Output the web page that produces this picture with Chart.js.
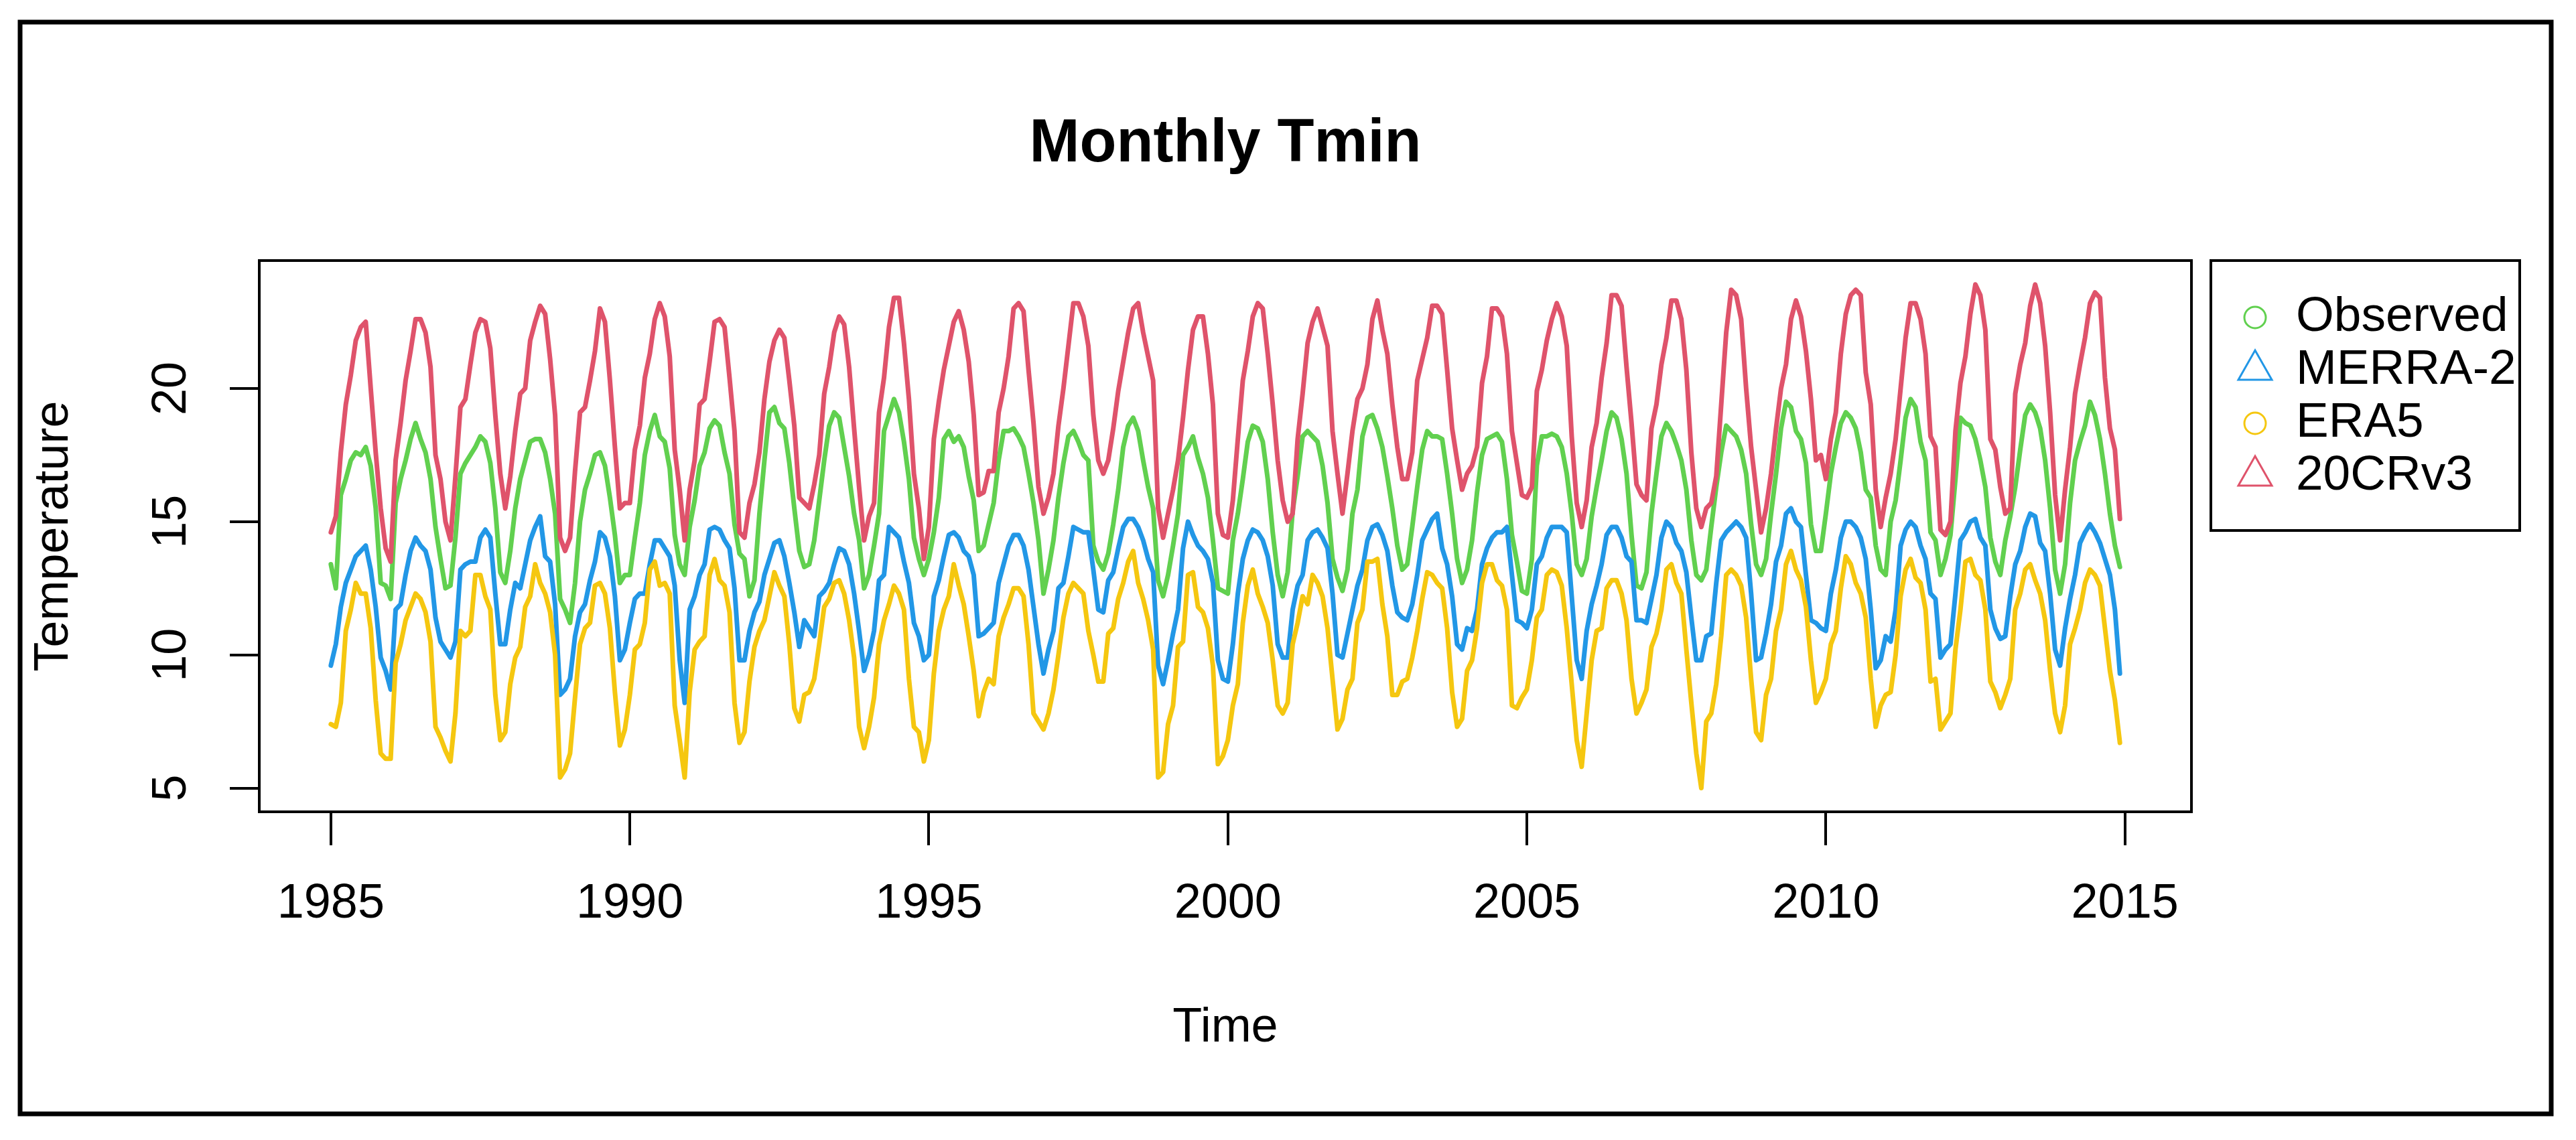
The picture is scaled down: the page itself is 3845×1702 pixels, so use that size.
<!DOCTYPE html>
<html>
<head>
<meta charset="utf-8">
<title>Monthly Tmin</title>
<script src="https://cdn.jsdelivr.net/npm/chart.js@4.4.1/dist/chart.umd.min.js"></script>
<style>
    html, body { margin: 0; padding: 0; background: #fff; }
    #wrap { width: 3845px; height: 1702px; }
</style>
</head>
<body>
<div id="wrap"><canvas id="chart-tmin" width="3845" height="1702"></canvas></div>
<script>
// monthly series, Jan 1985 .. Dec 2014 (one row per year)
var startYear = 1985;
var xTicks = [1985, 1990, 1995, 2000, 2005, 2010, 2015];
var yTicks = [5, 10, 15, 20];

var observed = [
    13.4, 12.5, 16.0, 16.6, 17.3, 17.6, 17.5, 17.8, 17.1, 15.5, 12.7, 12.6,
    12.1, 15.7, 16.6, 17.3, 18.1, 18.7, 18.1, 17.6, 16.6, 14.8, 13.6, 12.5,
    12.6, 14.4, 16.8, 17.2, 17.5, 17.8, 18.2, 18.0, 17.2, 15.5, 13.1, 12.7,
    13.9, 15.5, 16.6, 17.3, 18.0, 18.1, 18.1, 17.6, 16.6, 15.3, 12.1, 11.7,
    11.2, 12.7, 15.0, 16.2, 16.8, 17.5, 17.6, 17.1, 15.9, 14.5, 12.7, 13.0,
    13.0, 14.4, 15.7, 17.5, 18.4, 19.0, 18.2, 18.0, 17.0, 14.5, 13.4, 13.0,
    14.8, 15.8, 17.1, 17.6, 18.5, 18.8, 18.6, 17.6, 16.8, 14.9, 13.8, 13.6,
    12.2, 12.8, 15.3, 17.3, 19.1, 19.3, 18.7, 18.5, 17.2, 15.5, 13.9, 13.3,
    13.4, 14.3, 15.8, 17.3, 18.6, 19.1, 18.9, 17.8, 16.7, 15.3, 14.3, 12.5,
    13.0, 14.1, 15.3, 18.4, 19.0, 19.6, 19.1, 18.0, 16.6, 14.4, 13.6, 13.0,
    13.6, 14.6, 15.9, 18.1, 18.4, 18.0, 18.2, 17.8, 16.7, 15.8, 13.9, 14.1,
    14.9, 15.7, 17.3, 18.4, 18.4, 18.5, 18.2, 17.8, 16.8, 15.7, 14.3, 12.3,
    13.2, 14.3, 15.9, 17.2, 18.2, 18.4, 18.0, 17.5, 17.3, 14.1, 13.5, 13.2,
    13.8, 14.9, 16.2, 17.8, 18.6, 18.9, 18.4, 17.3, 16.3, 15.5, 12.8, 12.2,
    13.0, 14.1, 15.3, 17.5, 17.8, 18.2, 17.4, 16.8, 15.9, 14.3, 12.5, 12.4,
    12.3, 14.3, 15.3, 16.6, 18.0, 18.6, 18.5, 18.0, 16.6, 14.6, 13.0, 12.2,
    13.1, 15.4, 16.7, 18.2, 18.4, 18.2, 18.0, 17.1, 15.7, 13.6, 12.9, 12.4,
    13.2, 15.3, 16.2, 18.2, 18.9, 19.0, 18.5, 17.8, 16.7, 15.5, 14.1, 13.2,
    13.4, 14.8, 16.3, 17.7, 18.4, 18.2, 18.2, 18.1, 16.8, 15.3, 13.6, 12.7,
    13.2, 14.3, 16.1, 17.5, 18.1, 18.2, 18.3, 18.0, 16.6, 14.5, 13.5, 12.4,
    12.3, 13.6, 17.1, 18.2, 18.2, 18.3, 18.2, 17.8, 16.8, 15.3, 13.4, 13.0,
    13.6, 15.2, 16.3, 17.3, 18.4, 19.1, 18.9, 18.1, 16.8, 14.5, 12.6, 12.5,
    13.1, 15.3, 16.8, 18.2, 18.7, 18.4, 17.9, 17.3, 16.2, 14.3, 13.0, 12.8,
    13.2, 14.8, 16.3, 17.6, 18.6, 18.4, 18.2, 17.7, 16.8, 14.9, 13.4, 13.0,
    13.6, 15.3, 16.8, 18.5, 19.5, 19.3, 18.4, 18.1, 17.2, 14.9, 13.9, 13.9,
    15.3, 16.8, 17.8, 18.7, 19.1, 18.9, 18.5, 17.6, 16.2, 15.9, 14.1, 13.2,
    13.0, 15.0, 15.8, 17.3, 18.9, 19.6, 19.3, 18.0, 17.3, 14.6, 14.3, 13.0,
    13.6, 14.5, 16.6, 18.9, 18.7, 18.6, 18.1, 17.3, 16.3, 14.4, 13.5, 13.0,
    14.3, 15.2, 16.3, 17.7, 19.0, 19.4, 19.1, 18.5, 17.3, 15.5, 13.2, 12.3,
    13.4, 15.7, 17.3, 18.0, 18.6, 19.5, 19.0, 18.1, 16.8, 15.3, 14.1, 13.3
];

var merra2 = [
    9.6, 10.4, 11.8, 12.7, 13.2, 13.7, 13.9, 14.1, 13.2, 11.8, 9.9, 9.4,
    8.7, 11.7, 11.9, 13.0, 13.9, 14.4, 14.1, 13.9, 13.2, 11.4, 10.5, 10.2,
    9.9, 10.5, 13.2, 13.4, 13.5, 13.5, 14.4, 14.7, 14.4, 12.3, 10.4, 10.4,
    11.7, 12.7, 12.5, 13.4, 14.3, 14.8, 15.2, 13.7, 13.5, 11.9, 8.5, 8.7,
    9.1, 10.7, 11.6, 11.9, 12.8, 13.5, 14.6, 14.4, 13.7, 12.2, 9.8, 10.2,
    11.2, 12.1, 12.3, 12.3, 13.4, 14.3, 14.3, 14.0, 13.7, 12.6, 9.8, 8.2,
    11.7, 12.2, 13.0, 13.4, 14.7, 14.8, 14.7, 14.3, 14.0, 12.5, 9.8, 9.8,
    10.9, 11.6, 12.0, 13.0, 13.6, 14.2, 14.3, 13.7, 12.7, 11.6, 10.3, 11.3,
    11.0, 10.7, 12.2, 12.4, 12.7, 13.4, 14.0, 13.9, 13.4, 12.3, 10.9, 9.4,
    10.0, 10.9, 12.8, 13.0, 14.8, 14.6, 14.4, 13.5, 12.7, 11.2, 10.7, 9.8,
    10.0, 12.2, 12.8, 13.7, 14.5, 14.6, 14.4, 13.9, 13.7, 13.0, 10.7, 10.8,
    11.0, 11.2, 12.7, 13.4, 14.1, 14.5, 14.5, 14.1, 13.2, 11.8, 10.4, 9.3,
    10.2, 10.9, 12.5, 12.7, 13.7, 14.8, 14.7, 14.6, 14.6, 13.2, 11.7, 11.6,
    12.8, 13.1, 14.0, 14.8, 15.1, 15.1, 14.8, 14.3, 13.6, 13.1, 9.6, 8.9,
    9.8, 10.8, 11.7, 14.0, 15.0, 14.5, 14.1, 13.9, 13.6, 12.7, 9.8, 9.1,
    9.0, 10.4, 12.3, 13.6, 14.3, 14.7, 14.6, 14.3, 13.7, 12.6, 10.4, 9.9,
    9.9, 11.7, 12.6, 13.0, 14.3, 14.6, 14.7, 14.4, 14.0, 12.3, 10.0, 9.9,
    10.8, 11.7, 12.6, 13.2, 14.3, 14.8, 14.9, 14.5, 13.9, 12.6, 11.6, 11.4,
    11.3, 11.9, 13.0, 14.3, 14.7, 15.1, 15.3, 14.0, 13.4, 12.2, 10.4, 10.2,
    11.0, 10.9, 11.7, 13.4, 14.0, 14.4, 14.6, 14.6, 14.8, 13.0, 11.3, 11.2,
    11.0, 11.7, 13.4, 13.7, 14.4, 14.8, 14.8, 14.8, 14.6, 12.2, 9.8, 9.1,
    10.9, 11.9, 12.6, 13.4, 14.5, 14.8, 14.8, 14.4, 13.7, 13.5, 11.3, 11.3,
    11.2, 12.1, 13.0, 14.4, 15.0, 14.8, 14.2, 13.9, 13.1, 11.4, 9.8, 9.8,
    10.7, 10.8, 12.7, 14.3, 14.6, 14.8, 15.0, 14.8, 14.4, 12.3, 9.8, 9.9,
    10.8, 11.9, 13.5, 14.1, 15.3, 15.5, 15.0, 14.8, 13.0, 11.3, 11.2, 11.0,
    10.9, 12.3, 13.2, 14.4, 15.0, 15.0, 14.8, 14.4, 13.6, 11.7, 9.5, 9.8,
    10.7, 10.5, 11.7, 14.1, 14.7, 15.0, 14.8, 14.1, 13.6, 12.3, 12.1, 9.9,
    10.2, 10.4, 12.3, 14.3, 14.6, 15.0, 15.1, 14.4, 14.1, 11.7, 11.0, 10.6,
    10.7, 12.2, 13.4, 13.9, 14.8, 15.3, 15.2, 14.2, 13.9, 12.3, 10.2, 9.6,
    11.0, 12.1, 13.0, 14.2, 14.6, 14.9, 14.6, 14.2, 13.6, 13.0, 11.7, 9.3
];

var era5 = [
    7.4, 7.3, 8.2, 10.9, 11.7, 12.7, 12.3, 12.3, 11.0, 8.3, 6.3, 6.1,
    6.1, 9.7, 10.4, 11.3, 11.8, 12.3, 12.1, 11.6, 10.5, 7.3, 6.9, 6.4,
    6.0, 7.8, 10.9, 10.7, 10.9, 13.0, 13.0, 12.2, 11.7, 8.5, 6.8, 7.1,
    8.9, 9.9, 10.3, 11.8, 12.2, 13.4, 12.7, 12.3, 11.6, 10.0, 5.4, 5.7,
    6.3, 8.4, 10.4, 11.0, 11.2, 12.6, 12.7, 12.3, 11.0, 8.6, 6.6, 7.2,
    8.5, 10.2, 10.4, 11.2, 13.2, 13.5, 12.6, 12.7, 12.3, 8.1, 6.8, 5.4,
    8.6, 10.2, 10.5, 10.7, 13.0, 13.6, 12.8, 12.6, 11.6, 8.2, 6.7, 7.1,
    9.0, 10.3, 10.9, 11.3, 12.2, 13.1, 12.6, 12.2, 10.4, 8.0, 7.5, 8.5,
    8.6, 9.1, 10.4, 11.8, 12.1, 12.7, 12.8, 12.3, 11.3, 9.9, 7.3, 6.5,
    7.3, 8.4, 10.4, 11.3, 11.9, 12.6, 12.3, 11.7, 9.1, 7.3, 7.1, 6.0,
    6.8, 9.3, 10.9, 11.7, 12.2, 13.4, 12.6, 11.9, 10.7, 9.4, 7.7, 8.6,
    9.1, 8.9, 10.7, 11.4, 11.9, 12.5, 12.5, 12.2, 10.4, 7.8, 7.5, 7.2,
    7.8, 8.7, 10.0, 11.4, 12.3, 12.7, 12.5, 12.3, 10.9, 10.0, 9.0, 9.0,
    10.8, 11.0, 12.1, 12.7, 13.5, 13.9, 12.7, 12.1, 11.3, 10.2, 5.4, 5.6,
    7.4, 8.1, 10.3, 10.5, 13.0, 13.1, 11.8, 11.6, 11.0, 9.6, 5.9, 6.2,
    6.8, 8.1, 8.9, 11.2, 12.6, 13.2, 12.3, 11.8, 11.2, 9.8, 8.1, 7.8,
    8.2, 10.4, 11.2, 12.2, 11.9, 13.0, 12.7, 12.2, 11.0, 9.1, 7.2, 7.6,
    8.7, 9.1, 11.2, 11.7, 13.5, 13.5, 13.6, 11.9, 10.7, 8.5, 8.5, 9.0,
    9.1, 9.9, 10.9, 12.1, 13.1, 13.0, 12.7, 12.5, 11.0, 8.6, 7.3, 7.6,
    9.4, 9.8, 11.0, 12.7, 13.4, 13.4, 12.8, 12.6, 11.7, 8.1, 8.0, 8.4,
    8.7, 9.8, 11.4, 11.7, 13.0, 13.2, 13.1, 12.6, 11.0, 8.9, 6.8, 5.8,
    7.8, 9.8, 10.9, 11.0, 12.5, 12.8, 12.8, 12.3, 11.3, 9.1, 7.8, 8.2,
    8.7, 10.3, 10.8, 11.7, 13.2, 13.4, 12.7, 12.3, 10.2, 8.2, 6.3, 5.0,
    7.5, 7.8, 8.9, 10.7, 13.0, 13.2, 13.0, 12.6, 11.4, 9.1, 7.1, 6.8,
    8.5, 9.1, 10.9, 11.7, 13.4, 13.9, 13.2, 12.8, 11.8, 9.8, 8.2, 8.6,
    9.1, 10.4, 10.9, 12.5, 13.7, 13.4, 12.7, 12.3, 11.4, 9.1, 7.3, 8.1,
    8.5, 8.6, 10.0, 12.2, 13.2, 13.6, 12.9, 12.7, 11.7, 9.0, 9.1, 7.2,
    7.5, 7.8, 10.2, 11.7, 13.5, 13.6, 13.0, 12.8, 11.7, 9.0, 8.6, 8.0,
    8.5, 9.1, 11.7, 12.3, 13.2, 13.4, 12.8, 12.3, 11.3, 9.4, 7.8, 7.1,
    8.1, 10.4, 11.0, 11.7, 12.7, 13.2, 13.0, 12.6, 11.0, 9.4, 8.3, 6.7
];

var cr20v3 = [
    14.6, 15.2, 17.6, 19.4, 20.5, 21.8, 22.3, 22.5, 20.0, 17.6, 15.5, 14.0,
    13.5, 17.3, 18.7, 20.3, 21.4, 22.6, 22.6, 22.1, 20.8, 17.5, 16.6, 15.0,
    14.3, 16.7, 19.3, 19.6, 20.9, 22.1, 22.6, 22.5, 21.5, 19.0, 16.8, 15.5,
    16.7, 18.4, 19.8, 20.0, 21.8, 22.5, 23.1, 22.8, 21.1, 19.0, 14.4, 13.9,
    14.4, 16.9, 19.1, 19.3, 20.3, 21.4, 23.0, 22.5, 20.3, 17.8, 15.5, 15.7,
    15.7, 17.7, 18.6, 20.4, 21.3, 22.6, 23.2, 22.7, 21.2, 17.7, 16.2, 14.3,
    16.2, 17.3, 19.4, 19.6, 21.0, 22.5, 22.6, 22.3, 20.4, 18.4, 14.6, 14.4,
    15.7, 16.4, 17.6, 19.6, 21.0, 21.8, 22.2, 21.9, 20.3, 18.6, 15.9, 15.7,
    15.5, 16.4, 17.5, 19.8, 20.8, 22.1, 22.7, 22.4, 20.8, 18.5, 16.3, 14.3,
    15.2, 15.7, 19.1, 20.4, 22.3, 23.4, 23.4, 21.7, 19.6, 16.8, 15.5, 13.6,
    14.8, 18.1, 19.5, 20.7, 21.6, 22.5, 22.9, 22.2, 21.0, 19.0, 16.0, 16.1,
    16.9, 16.9, 19.1, 20.0, 21.2, 23.0, 23.2, 22.9, 20.7, 18.7, 16.3, 15.3,
    15.9, 16.8, 18.6, 20.0, 21.6, 23.2, 23.2, 22.7, 21.6, 19.0, 17.3, 16.8,
    17.3, 18.5, 19.9, 21.0, 22.1, 23.0, 23.2, 22.1, 21.2, 20.3, 15.5, 14.4,
    15.3, 16.2, 17.3, 18.9, 20.7, 22.2, 22.7, 22.7, 21.3, 19.4, 15.3, 14.5,
    14.4, 15.8, 18.1, 20.3, 21.4, 22.7, 23.2, 23.0, 21.3, 19.4, 17.3, 15.8,
    15.0, 15.3, 18.1, 19.8, 21.7, 22.5, 23.0, 22.3, 21.6, 18.4, 16.8, 15.3,
    16.8, 18.4, 19.6, 20.0, 20.9, 22.6, 23.3, 22.2, 21.3, 19.4, 17.8, 16.6,
    16.6, 17.6, 20.3, 21.1, 21.9, 23.1, 23.1, 22.8, 20.7, 18.5, 17.3, 16.2,
    16.8, 17.1, 17.8, 20.2, 21.2, 23.0, 23.0, 22.7, 21.3, 18.4, 17.2, 16.0,
    15.9, 16.3, 19.9, 20.7, 21.8, 22.6, 23.2, 22.7, 21.6, 18.2, 15.7, 14.8,
    15.8, 17.8, 18.7, 20.4, 21.7, 23.5, 23.5, 23.1, 20.8, 18.7, 16.4, 16.0,
    15.8, 18.5, 19.4, 20.9, 21.9, 23.3, 23.3, 22.6, 20.7, 17.6, 15.5, 14.8,
    15.5, 15.7, 16.7, 19.4, 22.1, 23.7, 23.5, 22.6, 20.0, 17.8, 16.2, 14.6,
    15.5, 16.8, 18.5, 20.0, 20.9, 22.6, 23.3, 22.7, 21.4, 19.6, 17.3, 17.5,
    16.6, 18.1, 19.1, 21.3, 22.8, 23.5, 23.7, 23.5, 20.6, 19.4, 16.2, 14.8,
    15.9, 16.8, 18.1, 20.0, 21.9, 23.2, 23.2, 22.6, 21.3, 18.2, 17.8, 14.7,
    14.5, 15.0, 18.4, 20.2, 21.2, 22.8, 23.9, 23.5, 22.2, 18.1, 17.7, 16.3,
    15.3, 15.5, 19.8, 20.9, 21.7, 23.1, 23.9, 23.2, 21.6, 19.1, 16.0, 14.3,
    16.2, 17.8, 19.8, 20.9, 21.9, 23.2, 23.6, 23.4, 20.4, 18.5, 17.7, 15.1
];

var FONT = "'Liberation Sans', Arial, sans-serif";

function toPoints(values) {
    var pts = [];
    for (var i = 0; i < values.length; i++) {
        pts.push({x: startYear + i / 12, y: values[i]});
    }
    return pts;
}

function series(label, values, color, marker, order) {
    return {
        label: label,
        data: toPoints(values),
        borderColor: color,
        backgroundColor: color,
        borderWidth: 7,
        pointRadius: 0,
        pointStyle: marker,
        tension: 0,
        borderJoinStyle: 'round',
        borderCapStyle: 'round',
        fill: false,
        order: order
    };
}

// plot box, R-style legend box and the outer figure frame
var frames = {
    id: 'frames',
    afterDraw: function (chart) {
        var ctx = chart.ctx;
        var a = chart.chartArea;
        ctx.save();
        ctx.strokeStyle = '#000';
        ctx.lineWidth = 4;
        ctx.strokeRect(a.left, a.top, a.right - a.left, a.bottom - a.top);

        var lx = a.right + 29;
        var ly = a.top;
        ctx.strokeRect(lx, ly, 461, 403);
        ctx.font = '73px ' + FONT;
        ctx.textBaseline = 'middle';
        ctx.textAlign = 'left';
        chart.data.datasets.forEach(function (ds, i) {
            var cx = lx + 66;
            var cy = ly + 85 + i * 79;
            ctx.strokeStyle = ds.borderColor;
            ctx.lineWidth = 3;
            ctx.beginPath();
            if (ds.pointStyle === 'triangle') {
                ctx.moveTo(cx, cy - 30);
                ctx.lineTo(cx + 25, cy + 14);
                ctx.lineTo(cx - 25, cy + 14);
                ctx.closePath();
            } else {
                ctx.arc(cx, cy, 16, 0, Math.PI * 2);
            }
            ctx.stroke();
            ctx.fillStyle = '#000';
            ctx.fillText(ds.label, lx + 127, cy);
        });

        ctx.strokeStyle = '#000';
        ctx.lineWidth = 7;
        ctx.strokeRect(30, 33, 3778, 1630);
        ctx.restore();
    }
};

new Chart(document.getElementById('chart-tmin'), {
    type: 'line',
    data: {
        datasets: [
            series('Observed', observed, '#61D04F', 'circle', 4),
            series('MERRA-2', merra2, '#2297E6', 'triangle', 3),
            series('ERA5', era5, '#F5C710', 'circle', 2),
            series('20CRv3', cr20v3, '#DF536B', 'triangle', 1)
        ]
    },
    options: {
        responsive: false,
        animation: false,
        events: [],
        layout: {padding: {left: 0, top: 0, right: 574, bottom: 0}},
        plugins: {
            legend: {display: false},
            tooltip: {enabled: false},
            title: {
                display: true,
                text: 'Monthly Tmin',
                fullSize: false,
                color: '#000',
                font: {family: FONT, size: 90, weight: 'bold', lineHeight: 1.2},
                padding: {top: 162, bottom: 119}
            }
        },
        scales: {
            x: {
                type: 'linear',
                min: 1983.803,
                max: 2016.113,
                afterBuildTicks: function (scale) {
                    scale.ticks = xTicks.map(function (v) { return {value: v}; });
                },
                afterFit: function (scale) { scale.height = 490; },
                border: {display: false},
                grid: {drawOnChartArea: false, drawTicks: true, tickLength: 50, color: '#000', lineWidth: 4},
                ticks: {
                    color: '#000',
                    font: {family: FONT, size: 72},
                    padding: 45,
                    maxRotation: 0,
                    autoSkip: false,
                    callback: function (v) { return String(v); }
                },
                title: {
                    display: true,
                    text: 'Time',
                    color: '#000',
                    font: {family: FONT, size: 72},
                    padding: {top: 0, bottom: 124}
                }
            },
            y: {
                type: 'linear',
                min: 4.11,
                max: 24.80,
                afterBuildTicks: function (scale) {
                    scale.ticks = yTicks.map(function (v) { return {value: v}; });
                },
                afterFit: function (scale) { scale.width = 387; },
                border: {display: false},
                grid: {drawOnChartArea: false, drawTicks: true, tickLength: 44, color: '#000', lineWidth: 4},
                ticks: {
                    color: '#000',
                    font: {family: FONT, size: 72},
                    padding: 46,
                    minRotation: 90,
                    maxRotation: 90,
                    crossAlign: 'center',
                    callback: function (v) { return String(v); }
                },
                title: {
                    display: true,
                    text: 'Temperature',
                    color: '#000',
                    font: {family: FONT, size: 72},
                    padding: {top: 38, bottom: 0}
                }
            }
        }
    },
    plugins: [frames]
});
</script>
</body>
</html>
